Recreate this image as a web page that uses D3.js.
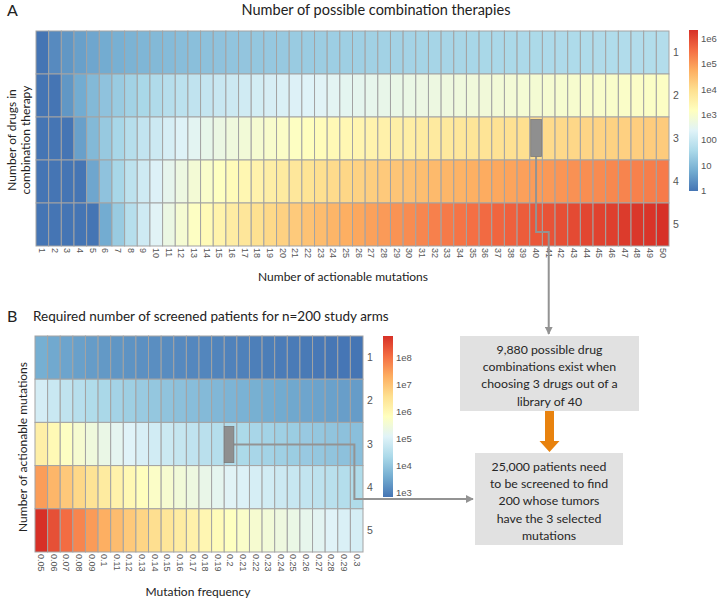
<!DOCTYPE html>
<html><head><meta charset="utf-8">
<script src="https://cdn.jsdelivr.net/npm/d3@7"></script>
<style>body{margin:0;background:#fff} svg{display:block}</style>
</head><body><svg id="c" width="721" height="599"></svg>
<script>
// ---------------- DATA ----------------
// Panel A: number of possible combination therapies C(n,k)
const mutationsA = [1,2,3,4,5,6,7,8,9,10,11,12,13,14,15,16,17,18,19,20,21,22,23,24,25,26,27,28,29,30,31,32,33,34,35,36,37,38,39,40,41,42,43,44,45,46,47,48,49,50];
const drugsA = [1,2,3,4,5];
const combos1 = [1,2,3,4,5,6,7,8,9,10,11,12,13,14,15,16,17,18,19,20,21,22,23,24,25,26,27,28,29,30,31,32,33,34,35,36,37,38,39,40,41,42,43,44,45,46,47,48,49,50];
const combos2 = [0,1,3,6,10,15,21,28,36,45,55,66,78,91,105,120,136,153,171,190,210,231,253,276,300,325,351,378,406,435,465,496,528,561,595,630,666,703,741,780,820,861,903,946,990,1035,1081,1128,1176,1225];
const combos3 = [0,0,1,4,10,20,35,56,84,120,165,220,286,364,455,560,680,816,969,1140,1330,1540,1771,2024,2300,2600,2925,3276,3654,4060,4495,4960,5456,5984,6545,7140,7770,8436,9139,9880,10660,11480,12341,13244,14190,15180,16215,17296,18424,19600];
const combos4 = [0,0,0,1,5,15,35,70,126,210,330,495,715,1001,1365,1820,2380,3060,3876,4845,5985,7315,8855,10626,12650,14950,17550,20475,23751,27405,31465,35960,40920,46376,52360,58905,66045,73815,82251,91390,101270,111930,123410,135751,148995,163185,178365,194580,211876,230300];
const combos5 = [0,0,0,0,1,6,21,56,126,252,462,792,1287,2002,3003,4368,6188,8568,11628,15504,20349,26334,33649,42504,53130,65780,80730,98280,118755,142506,169911,201376,237336,278256,324632,376992,435897,501942,575757,658008,749398,850668,962598,1086008,1221759,1370754,1533939,1712304,1906884,2118760];
const legendTicksA = [1,10,100,1e3,1e4,1e5,1e6];
const legendLabelsA = ["1","10","100","1e3","1e4","1e5","1e6"];

// Panel B: required number of screened patients for n=200 study arms
const freqB = [0.05,0.06,0.07,0.08,0.09,0.1,0.11,0.12,0.13,0.14,0.15,0.16,0.17,0.18,0.19,0.2,0.21,0.22,0.23,0.24,0.25,0.26,0.27,0.28,0.29,0.3];
const freqLabelsB = ["0.05","0.06","0.07","0.08","0.09","0.1","0.11","0.12","0.13","0.14","0.15","0.16","0.17","0.18","0.19","0.2","0.21","0.22","0.23","0.24","0.25","0.26","0.27","0.28","0.29","0.3"];
const mutationsB = [1,2,3,4,5];
const screened1 = [4000,3333,2857,2500,2222,2000,1818,1667,1538,1429,1333,1250,1176,1111,1053,1000,952,909,870,833,800,769,741,714,690,667];
const screened2 = [80000,55556,40816,31250,24691,20000,16529,13889,11834,10204,8889,7813,6920,6173,5540,5000,4535,4132,3781,3472,3200,2959,2743,2551,2378,2222];
const screened3 = [1600000,925926,583090,390625,274348,200000,150263,115741,91033,72886,59259,48828,40709,34294,29159,25000,21596,18783,16438,14468,12800,11379,10161,9111,8200,7407];
const screened4 = [32000000,15432099,8329863,4882813,3048316,2000000,1366027,964506,700255,520616,395062,305176,239462,190519,153467,125000,102838,85376,71469,60282,51200,43766,37634,32538,28277,24691];
const screened5 = [640000000,257201646,118998043,61035156,33870175,20000000,12418430,8037551,5386577,3718686,2633745,1907349,1408597,1058439,807722,625000,489705,388074,310737,251177,204800,168330,139385,116207,97506,82305];
const legendTicksB = [1e3,1e4,1e5,1e6,1e7,1e8];
const legendLabelsB = ["1e3","1e4","1e5","1e6","1e7","1e8"];

const highlightA = {mut: 40, drugs: 3};
const highlightB = {freq: 0.2, muts: 3};
const box1Lines = ["9,880 possible drug","combinations exist when","choosing 3 drugs out of a","library of 40"];
const box2Lines = ["25,000 patients need","to be screened to find","200 whose tumors","have the 3 selected","mutations"];

// ---------------- DRAW ----------------
const svg = d3.select("#c");
const palette = d3.schemeRdYlBu[9].slice().reverse();
const interp = d3.piecewise(d3.interpolateRgb, palette);
const TITLE_FONT = "Lato, 'Open Sans', sans-serif";
const TICK_FONT = "'Liberation Sans', Arial, sans-serif";

function makeColor(min, max) {
  const lg = d3.scaleLog().domain([min, max]).range([0, 1]).clamp(true);
  return v => v <= 0 ? palette[0] : interp(lg(v));
}

function heatmap(opts) {
  const {cols, colLabels, rows, matrix, x0, x1, y0, y1, tickFont, rowLabelX} = opts;
  const x = d3.scaleBand().domain(cols).range([x0, x1]);
  const y = d3.scaleBand().domain(rows).range([y0, y1]);
  const flat = matrix.flat().filter(v => v > 0);
  const color = makeColor(d3.min(flat), d3.max(flat));
  const g = svg.append("g");
  rows.forEach((r, i) => {
    g.selectAll(null).data(cols).enter().append("rect")
      .attr("x", c => x(c)).attr("y", y(r))
      .attr("width", x.bandwidth()).attr("height", y.bandwidth())
      .attr("fill", (c, j) => color(matrix[i][j]))
      .attr("stroke", "#a3a3a3").attr("stroke-width", 1);
  });
  g.selectAll(null).data(cols).enter().append("text")
    .attr("transform", (c) => `translate(${x(c) + x.bandwidth() / 2},${y1 + 2}) rotate(90)`)
    .attr("dy", "0.35em")
    .attr("font-family", TICK_FONT).attr("font-size", tickFont).attr("fill", "#555")
    .text((c, j) => colLabels[j]);
  g.selectAll(null).data(rows).enter().append("text")
    .attr("x", rowLabelX).attr("y", r => y(r) + y.bandwidth() / 2).attr("dy", "0.35em")
    .attr("font-family", TICK_FONT).attr("font-size", 10.5).attr("fill", "#555")
    .text(r => r);
  return {x, y, color, min: d3.min(flat), max: d3.max(flat)};
}

function legend(id, min, max, bx, bw, top, bottom, ticks, labels) {
  const s = d3.scaleLog().domain([min, max]).range([bottom, top]);
  const defs = svg.append("defs");
  const gr = defs.append("linearGradient").attr("id", id)
    .attr("x1", 0).attr("y1", 1).attr("x2", 0).attr("y2", 0);
  palette.forEach((c, i) => gr.append("stop").attr("offset", i / (palette.length - 1)).attr("stop-color", c));
  svg.append("rect").attr("x", bx).attr("y", top).attr("width", bw).attr("height", bottom - top)
    .attr("fill", `url(#${id})`);
  svg.selectAll(null).data(ticks).enter().append("text")
    .attr("x", bx + bw + 3).attr("y", t => s(t)).attr("dy", "0.35em")
    .attr("font-family", TICK_FONT).attr("font-size", 9.5).attr("fill", "#555")
    .text((t, i) => labels[i]);
}

// ---- Panel A ----
const A = heatmap({cols: mutationsA, colLabels: mutationsA.map(String), rows: drugsA,
  matrix: [combos1, combos2, combos3, combos4, combos5],
  x0: 36, x1: 669, y0: 31, y1: 246, tickFont: 9, rowLabelX: 673});
legend("gA", A.min, A.max, 689, 9, 30, 191, legendTicksA, legendLabelsA);

svg.append("text").attr("x", 7).attr("y", 16).attr("font-family", TITLE_FONT).attr("font-size", 16).attr("fill", "#222").text("A");
svg.append("text").attr("x", 376).attr("y", 15).attr("text-anchor", "middle").attr("font-family", TITLE_FONT)
  .attr("font-size", 14.5).attr("fill", "#222").text("Number of possible combination therapies");
svg.append("text").attr("x", 343).attr("y", 281).attr("text-anchor", "middle").attr("font-family", TITLE_FONT)
  .attr("font-size", 12).attr("fill", "#222").text("Number of actionable mutations");
const yta = svg.append("text").attr("transform", "translate(0,140) rotate(-90)").attr("text-anchor", "middle")
  .attr("font-family", TITLE_FONT).attr("font-size", 12).attr("fill", "#222");
yta.append("tspan").attr("x", 0).attr("y", 16).text("Number of drugs in");
yta.append("tspan").attr("x", 0).attr("y", 30).text("combination therapy");

// ---- Panel B ----
const B = heatmap({cols: freqB, colLabels: freqLabelsB, rows: mutationsB,
  matrix: [screened1, screened2, screened3, screened4, screened5],
  x0: 35, x1: 363, y0: 336, y1: 552, tickFont: 9, rowLabelX: 367});
legend("gB", B.min, B.max, 383, 10, 336, 497, legendTicksB, legendLabelsB);

svg.append("text").attr("x", 7).attr("y", 322).attr("font-family", TITLE_FONT).attr("font-size", 16).attr("fill", "#222").text("B");
svg.append("text").attr("x", 33).attr("y", 321).attr("font-family", TITLE_FONT)
  .attr("font-size", 13.5).attr("fill", "#222").text("Required number of screened patients for n=200 study arms");
svg.append("text").attr("x", 198).attr("y", 596).attr("text-anchor", "middle").attr("font-family", TITLE_FONT)
  .attr("font-size", 12).attr("fill", "#222").text("Mutation frequency");
svg.append("text").attr("transform", "translate(27,447) rotate(-90)").attr("text-anchor", "middle")
  .attr("font-family", TITLE_FONT).attr("font-size", 12).attr("fill", "#222").text("Number of actionable mutations");

// ---- Annotations ----
const defs = svg.append("defs");
defs.append("marker").attr("id", "ah").attr("viewBox", "0 0 10 10").attr("refX", 9).attr("refY", 5)
  .attr("markerWidth", 4).attr("markerHeight", 4).attr("orient", "auto")
  .append("path").attr("d", "M0,0L10,5L0,10Z").attr("fill", "#939393");

const mxA = A.x(highlightA.mut), myA = A.y(highlightA.drugs);
const mkA = {x: mxA + 1, y: myA + 2.5, w: A.x.bandwidth() - 2, h: A.y.bandwidth() - 6};
const mxB = B.x(highlightB.freq), myB = B.y(highlightB.muts);
const mkB = {x: mxB, y: myB + 4, w: B.x.bandwidth() - 3, h: B.y.bandwidth() - 7};

const box1 = {x: 460, y: 336, w: 179, h: 75};
const box2 = {x: 475, y: 453, w: 148, h: 92};
const cx = A.x(41) + A.x.bandwidth() / 2;

const lineA = d3.path();
lineA.moveTo(mkA.x + mkA.w / 2, mkA.y + mkA.h);
lineA.lineTo(mkA.x + mkA.w / 2, 232);
lineA.lineTo(cx, 232);
lineA.lineTo(cx, box1.y - 2);
svg.append("path").attr("d", lineA.toString()).attr("fill", "none").attr("stroke", "#939393")
  .attr("stroke-width", 2).attr("marker-end", "url(#ah)");

const xTurn = B.x(0.3) + 4;
const lineB = d3.path();
lineB.moveTo(mkB.x + mkB.w, mkB.y + mkB.h / 2);
lineB.lineTo(xTurn, mkB.y + mkB.h / 2);
lineB.lineTo(xTurn, 499);
lineB.lineTo(box2.x - 2, 499);
svg.append("path").attr("d", lineB.toString()).attr("fill", "none").attr("stroke", "#939393")
  .attr("stroke-width", 2).attr("marker-end", "url(#ah)");

[mkA, mkB].forEach(m => svg.append("rect").attr("x", m.x).attr("y", m.y).attr("width", m.w).attr("height", m.h)
  .attr("fill", "#8f8f8f").attr("stroke", "#7a7a7a").attr("stroke-width", 0.8));

function textBox(b, lines, firstY) {
  svg.append("rect").attr("x", b.x).attr("y", b.y).attr("width", b.w).attr("height", b.h).attr("fill", "#e1e1e1");
  svg.selectAll(null).data(lines).enter().append("text")
    .attr("x", b.x + b.w / 2).attr("y", (d, i) => firstY + i * 17.2).attr("text-anchor", "middle")
    .attr("font-family", TITLE_FONT).attr("font-size", 12.3).attr("fill", "#262626").text(d => d);
}
textBox(box1, box1Lines, 354);
textBox(box2, box2Lines, 471);

const oa = d3.path();
const ox = box1.x + box1.w / 2;
oa.moveTo(ox - 4.5, box1.y + box1.h);
oa.lineTo(ox + 4.5, box1.y + box1.h);
oa.lineTo(ox + 4.5, 441);
oa.lineTo(ox + 10, 441);
oa.lineTo(ox, box2.y - 1);
oa.lineTo(ox - 10, 441);
oa.lineTo(ox - 4.5, 441);
oa.closePath();
svg.append("path").attr("d", oa.toString()).attr("fill", "#e8820e");
</script>
</body></html>
